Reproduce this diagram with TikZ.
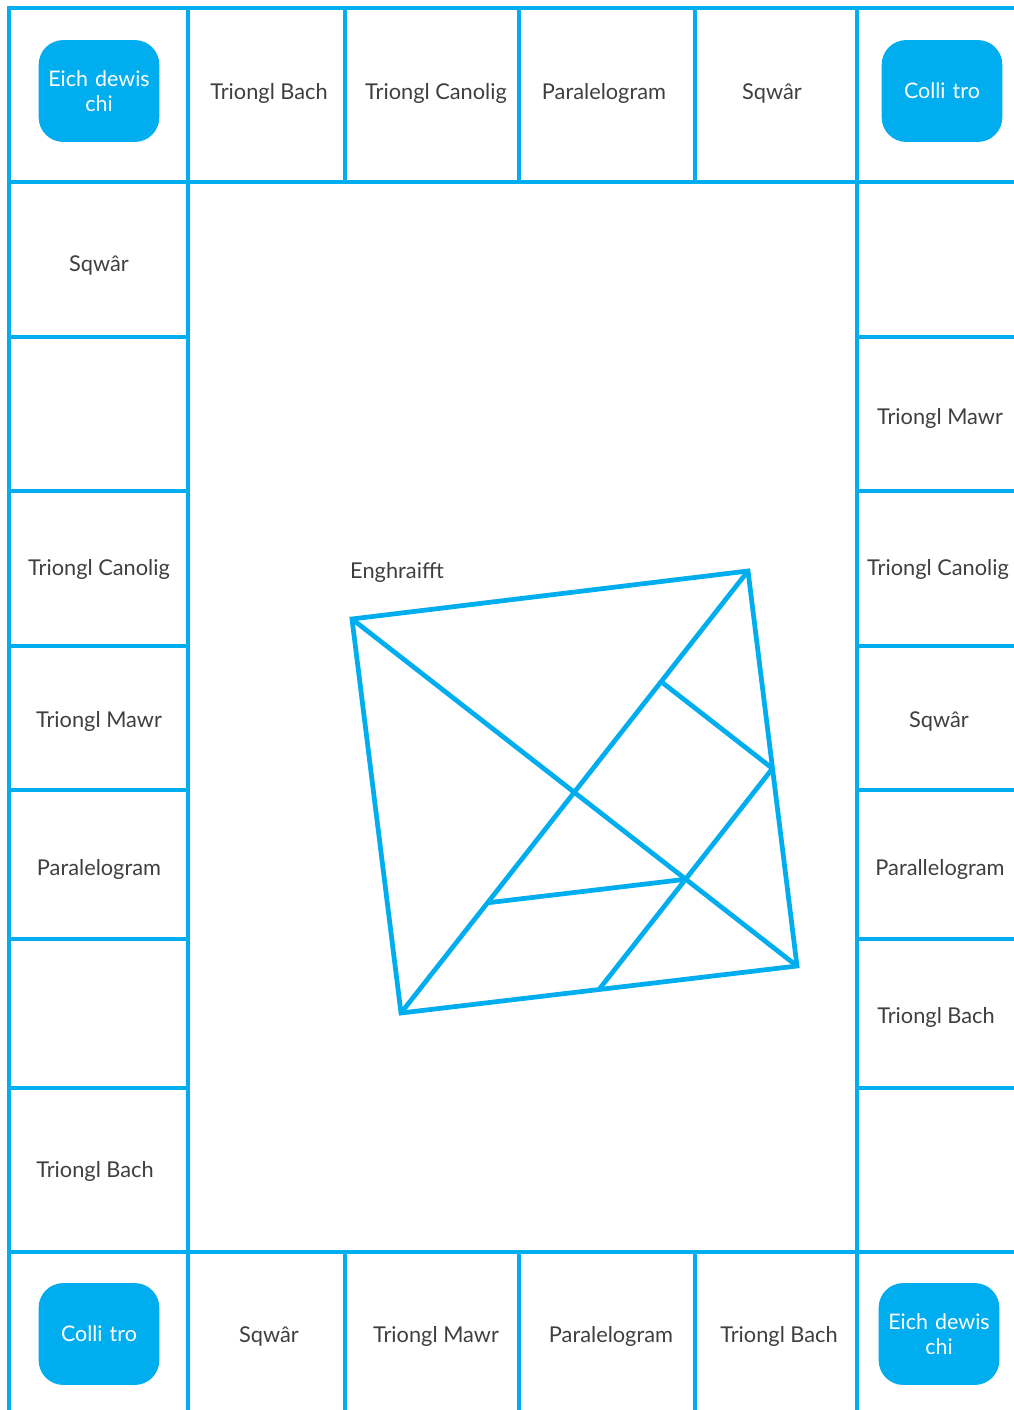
\documentclass[tikz,border=0pt]{standalone}
\usepackage{fontspec}
\setmainfont{Lato}
\usetikzlibrary{calc}
\definecolor{boardblue}{HTML}{00AEEF}
\definecolor{labelgrey}{HTML}{3F3F3F}

\begin{document}
\begin{tikzpicture}[
  x=0.02cm, y=-0.02cm,
  grid/.style={draw=boardblue, line width=2.5pt},
  cell/.style={text=labelgrey, font=\fontsize{12.4}{14}\selectfont, inner sep=1pt, yshift=-1.6pt},
  corner/.style={rectangle, fill=boardblue, rounded corners=14pt, minimum width=66pt, minimum height=58pt, text width=62pt, align=center, text=white, font=\fontsize{12.2}{14.2}\selectfont},
  piece/.style={draw=boardblue, line width=2.7pt, line join=miter}
]
  \useasboundingbox (0,0) rectangle (1014,1410);

  % board lines
  \draw[grid] (1014,8) -- (9,8) -- (9,1410);
  \draw[grid] (9,182) -- (1014,182);
  \draw[grid] (9,1252) -- (1014,1252);
  \draw[grid] (188,8) -- (188,1410);
  \draw[grid] (857,8) -- (857,1410);
  \foreach \x in {345,519,695} {
    \draw[grid] (\x,8) -- (\x,182);
    \draw[grid] (\x,1252) -- (\x,1410);
  }
  \foreach \y in {337,491,646,790,939,1088} {
    \draw[grid] (9,\y) -- (188,\y);
    \draw[grid] (857,\y) -- (1014,\y);
  }

  % corners
  \node[corner] (startTL) at (99,91) {Eich dewis\\chi};
  \node[corner] (missTR) at (942,91) {Colli tro};
  \node[corner] (missBL) at (99,1334) {Colli tro};
  \node[corner] (startBR) at (939,1334) {Eich dewis\\chi};

  % top row
  \node[cell] (top1) at (269,91) {Triongl Bach};
  \node[cell] (top2) at (436,91) {Triongl Canolig};
  \node[cell] (top3) at (604,91) {Paralelogram};
  \node[cell] (top4) at (772,91) {Sqwâr};

  % left column
  \node[cell] (left1) at (99,263) {Sqwâr};
  \node[cell] (left3) at (99,567) {Triongl Canolig};
  \node[cell] (left4) at (99,719) {Triongl Mawr};
  \node[cell] (left5) at (99,867) {Paralelogram};
  \node[cell] (left7) at (95,1169) {Triongl Bach};

  % right column
  \node[cell] (right2) at (940,416) {Triongl Mawr};
  \node[cell] (right3) at (938,567) {Triongl Canolig};
  \node[cell] (right4) at (939,719) {Sqwâr};
  \node[cell] (right5) at (940,867) {Parallelogram};
  \node[cell] (right6) at (936,1015) {Triongl Bach};

  % bottom row
  \node[cell] (bot1) at (269,1334) {Sqwâr};
  \node[cell] (bot2) at (436,1334) {Triongl Mawr};
  \node[cell] (bot3) at (611,1334) {Paralelogram};
  \node[cell] (bot4) at (779,1334) {Triongl Bach};

  % tangram example
  \node[cell] (example) at (397,570) {Enghraifft};
  \coordinate (sqA) at (352,619);
  \coordinate (sqB) at (748,571);
  \coordinate (sqC) at (797,966);
  \coordinate (sqD) at (401,1013);
  \coordinate (mid) at ($(sqA)!0.5!(sqC)$);
  \coordinate (mBO) at ($(sqB)!0.5!(mid)$);
  \coordinate (mBC) at ($(sqB)!0.5!(sqC)$);
  \coordinate (mOC) at ($(mid)!0.5!(sqC)$);
  \coordinate (mDO) at ($(sqD)!0.5!(mid)$);
  \coordinate (mDC) at ($(sqD)!0.5!(sqC)$);
  \draw[piece] (sqA) -- (sqB) -- (sqC) -- (sqD) -- cycle;
  \draw[piece] (sqA) -- (sqC);
  \draw[piece] (sqD) -- (sqB);
  \draw[piece] (mBO) -- (mBC);
  \draw[piece] (mBC) -- (mDC);
  \draw[piece] (mDO) -- (mOC);
\end{tikzpicture}
\end{document}
